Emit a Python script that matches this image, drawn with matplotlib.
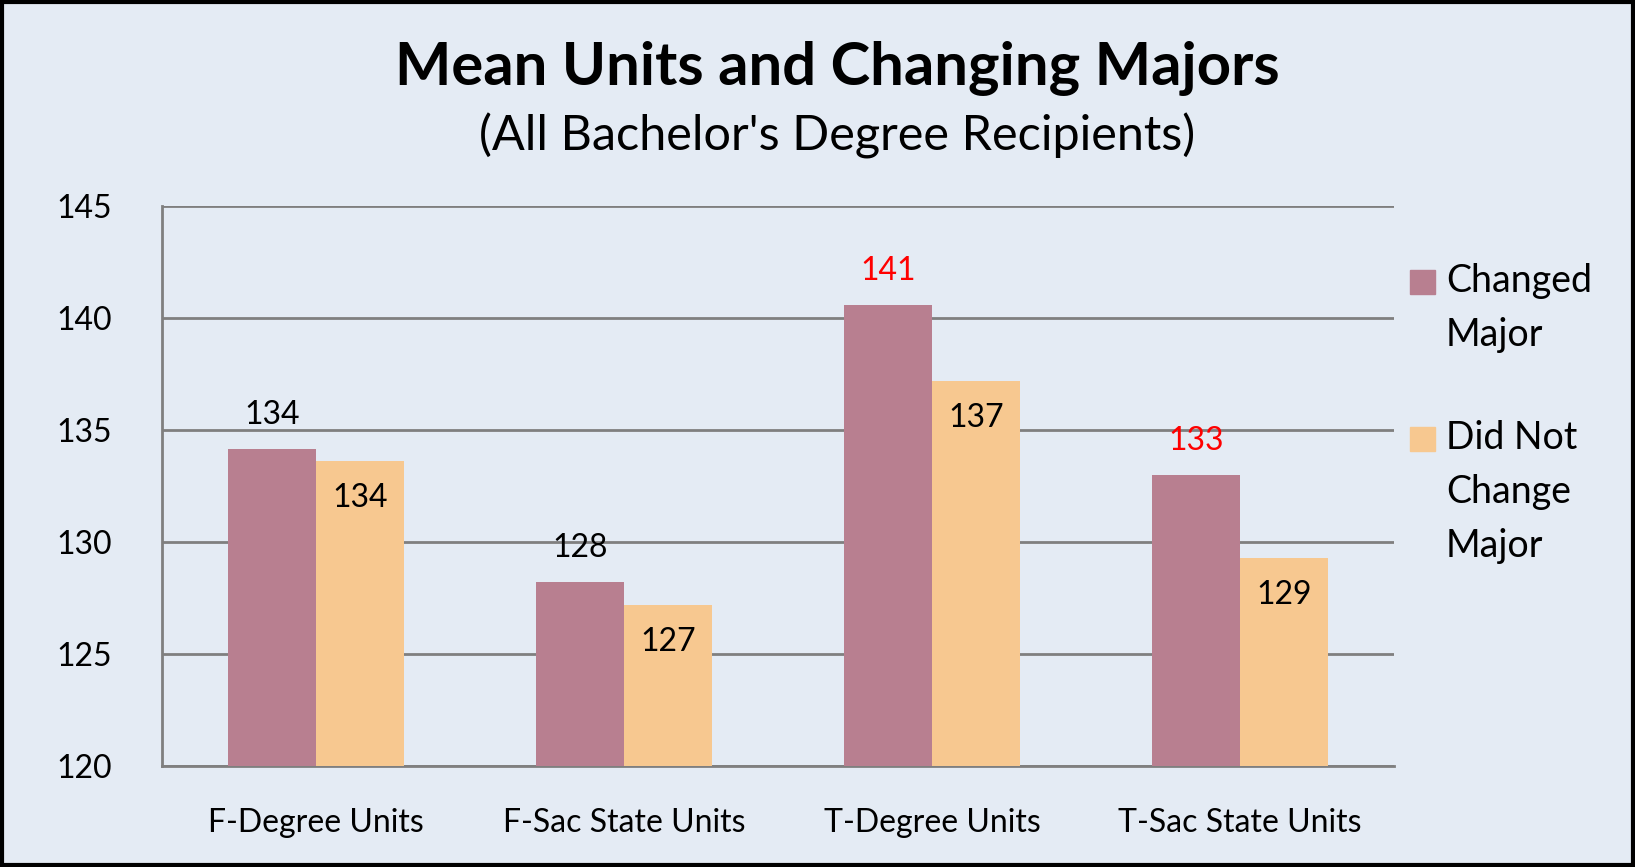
import matplotlib.pyplot as plt
import numpy as np
from matplotlib.patches import Rectangle

plt.rcParams['font.family'] = ['Lato', 'DejaVu Sans']

# data
categories = ["F-Degree Units", "F-Sac State Units", "T-Degree Units", "T-Sac State Units"]
changed = [134.15, 128.2, 140.58, 133.0]
not_changed = [133.6, 127.19, 137.19, 129.29]
changed_lbl = ["134", "128", "141", "133"]
not_changed_lbl = ["134", "127", "137", "129"]
changed_lbl_col = ["black", "black", "red", "red"]

bg = "#E4EBF4"
c_changed = "#B87F90"
c_not = "#F7C890"
grid_c = "#7F7F7F"

fig = plt.figure(figsize=(16.35, 8.67), dpi=100)
fig.patch.set_facecolor(bg)
ax = fig.add_axes([162/1635, 1 - 766/867, (1394-162)/1635, (766-206)/867])
ax.set_facecolor(bg)

x = np.arange(len(categories))
w = 1 / 3.5
ax.bar(x - w/2, changed, w, color=c_changed, zorder=3)
ax.bar(x + w/2, not_changed, w, color=c_not, zorder=3)

ax.set_ylim(120, 145)
ax.set_xlim(-0.5, len(categories) - 0.5)
ax.set_yticks(np.arange(120, 146, 5))
ax.yaxis.grid(True, color=grid_c, linewidth=2, zorder=0)
for s in ["top", "right"]:
    ax.spines[s].set_visible(False)
for s in ["left", "bottom"]:
    ax.spines[s].set_color(grid_c)
    ax.spines[s].set_linewidth(2)
ax.tick_params(axis="both", length=0, labelsize=23)
ax.tick_params(axis="y", pad=36)
ax.tick_params(axis="x", pad=30)
ax.set_xticks(x)
ax.set_xticklabels(categories)

# value labels
for i in range(len(categories)):
    ax.annotate(changed_lbl[i], (x[i] - w/2, changed[i]), xytext=(0, 34),
                textcoords="offset pixels", ha="center", va="center",
                fontsize=23, color=changed_lbl_col[i])
    ax.annotate(not_changed_lbl[i], (x[i] + w/2, not_changed[i]), xytext=(0, -37),
                textcoords="offset pixels", ha="center", va="center",
                fontsize=23, color="black")

# titles
fig.text(837/1635, 1 - 68/867, "Mean Units and Changing Majors", ha="center",
         va="center", fontsize=43, fontweight="bold")
fig.text(837/1635, 1 - 136/867, "(All Bachelor's Degree Recipients)", ha="center",
         va="center", fontsize=35)

# legend
fig.patches.append(Rectangle((1410/1635, 1 - 294/867), 25/1635, 24/867,
                             transform=fig.transFigure, color=c_changed))
fig.patches.append(Rectangle((1410/1635, 1 - 451/867), 25/1635, 24/867,
                             transform=fig.transFigure, color=c_not))
fig.text(1446/1635, 1 - 263/867, "Changed\nMajor", ha="left", va="top",
         fontsize=27, linespacing=1.62)
fig.text(1446/1635, 1 - 420/867, "Did Not\nChange\nMajor", ha="left", va="top",
         fontsize=27, linespacing=1.62)

# frame
fig.patches.append(Rectangle((0.001, 0.002), 0.998, 0.996, transform=fig.transFigure,
                             fill=False, edgecolor="black", linewidth=3))

fig.savefig("out.png", dpi=100, facecolor=bg)
